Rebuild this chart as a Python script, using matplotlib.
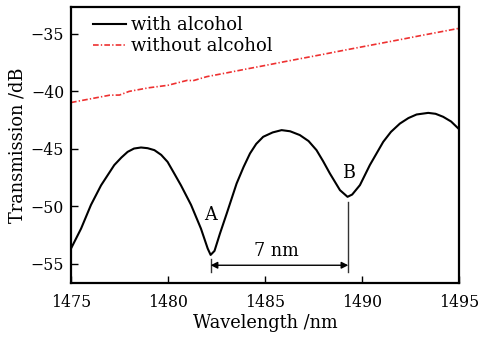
import matplotlib
matplotlib.use('Agg')
import matplotlib.pyplot as plt

# black curve: with alcohol
wl_alc = [1475.0, 1475.52, 1476.03, 1476.55, 1477.23, 1477.6, 1477.92, 1478.25, 1478.61, 1478.95,
          1479.3, 1479.65, 1479.98, 1480.3, 1480.67, 1481.19, 1481.7, 1482.05, 1482.2, 1482.4,
          1482.68, 1483.03, 1483.54, 1483.9, 1484.23, 1484.55, 1484.91, 1485.4, 1485.86, 1486.3,
          1486.8, 1487.25, 1487.66, 1488.0, 1488.35, 1488.87, 1489.26, 1489.5, 1489.9, 1490.41,
          1491.1, 1491.5, 1491.96, 1492.4, 1492.82, 1493.42, 1493.8, 1494.19, 1494.6, 1495.0]
tr_alc = [-53.7, -51.96, -49.9, -48.2, -46.44, -45.78, -45.29, -45.0, -44.91, -44.97,
          -45.14, -45.55, -46.16, -47.1, -48.2, -49.9, -51.96, -53.7, -54.25, -53.9,
          -52.4, -50.65, -48.04, -46.6, -45.43, -44.6, -43.98, -43.6, -43.4, -43.5,
          -43.83, -44.35, -45.14, -46.1, -47.17, -48.62, -49.2, -49.0, -48.18, -46.44,
          -44.42, -43.55, -42.83, -42.35, -42.04, -41.9, -41.98, -42.24, -42.65, -43.3]

# red curve: without alcohol
wl_air = [1475, 1476, 1477, 1477.5, 1478, 1479, 1480, 1481, 1481.3, 1482, 1483, 1484,
          1485, 1486, 1487, 1488, 1489, 1490, 1491, 1492, 1493, 1494, 1495]
tr_air = [-41.00, -40.68, -40.36, -40.35, -40.03, -39.72, -39.50, -39.07, -39.10, -38.75,
          -38.43, -38.10, -37.78, -37.45, -37.13, -36.81, -36.48, -36.16, -35.84, -35.52,
          -35.19, -34.87, -34.55]

dip_a = (1482.2, -54.3)
dip_b = (1489.3, -49.2)

plt.rcParams['font.family'] = 'DejaVu Serif'
plt.rcParams['mathtext.fontset'] = 'dejavuserif'

fig = plt.figure(figsize=(4.83, 3.37), dpi=100)
ax = fig.add_axes([0.147, 0.160, 0.803, 0.819])

ax.plot(wl_alc, tr_alc, color='black', lw=1.5, label='with alcohol')
ax.plot(wl_air, tr_air, color='#ee3030', lw=1.2, ls=(0, (3.4, 1.3, 0.8, 1.3)),
        label='without alcohol')

ax.set_xlim(1475, 1495)
ax.set_ylim(-56.7, -32.7)
ax.set_xticks([1475, 1480, 1485, 1490, 1495])
ax.set_yticks([-55, -50, -45, -40, -35])
ax.tick_params(direction='in', length=5, width=1, labelsize=11.3, top=False, right=False, pad=5)
ax.tick_params(axis='x', pad=8)
for s in ax.spines.values():
    s.set_linewidth(1.6)

ax.set_xlabel('Wavelength /nm', fontsize=12.8, labelpad=2)
ax.set_ylabel('Transmission /dB', fontsize=12.8, labelpad=3)

# dip markers and arrow
ax.plot([dip_a[0], dip_a[0]], [-54.6, -55.7], color='#333333', lw=1)
ax.plot([dip_b[0], dip_b[0]], [-49.65, -55.7], color='#333333', lw=1)
ax.annotate('', xy=(dip_a[0], -55.15), xytext=(dip_b[0], -55.15),
            arrowprops=dict(arrowstyle='<|-|>', color='black', lw=1,
                            mutation_scale=10, shrinkA=0, shrinkB=0))
ax.text(1485.6, -53.9, '7 nm', fontsize=12.7, ha='center', va='center')
ax.text(dip_a[0], -50.8, 'A', fontsize=12.7, ha='center', va='center')
ax.text(dip_b[0], -47.15, 'B', fontsize=12.7, ha='center', va='center')

ax.legend(loc='upper left', bbox_to_anchor=(0.039, 0.993), frameon=False, fontsize=13,
          handlelength=1.8, handletextpad=0.3, labelspacing=0.15, borderaxespad=0)

fig.savefig('out.png', dpi=100)
